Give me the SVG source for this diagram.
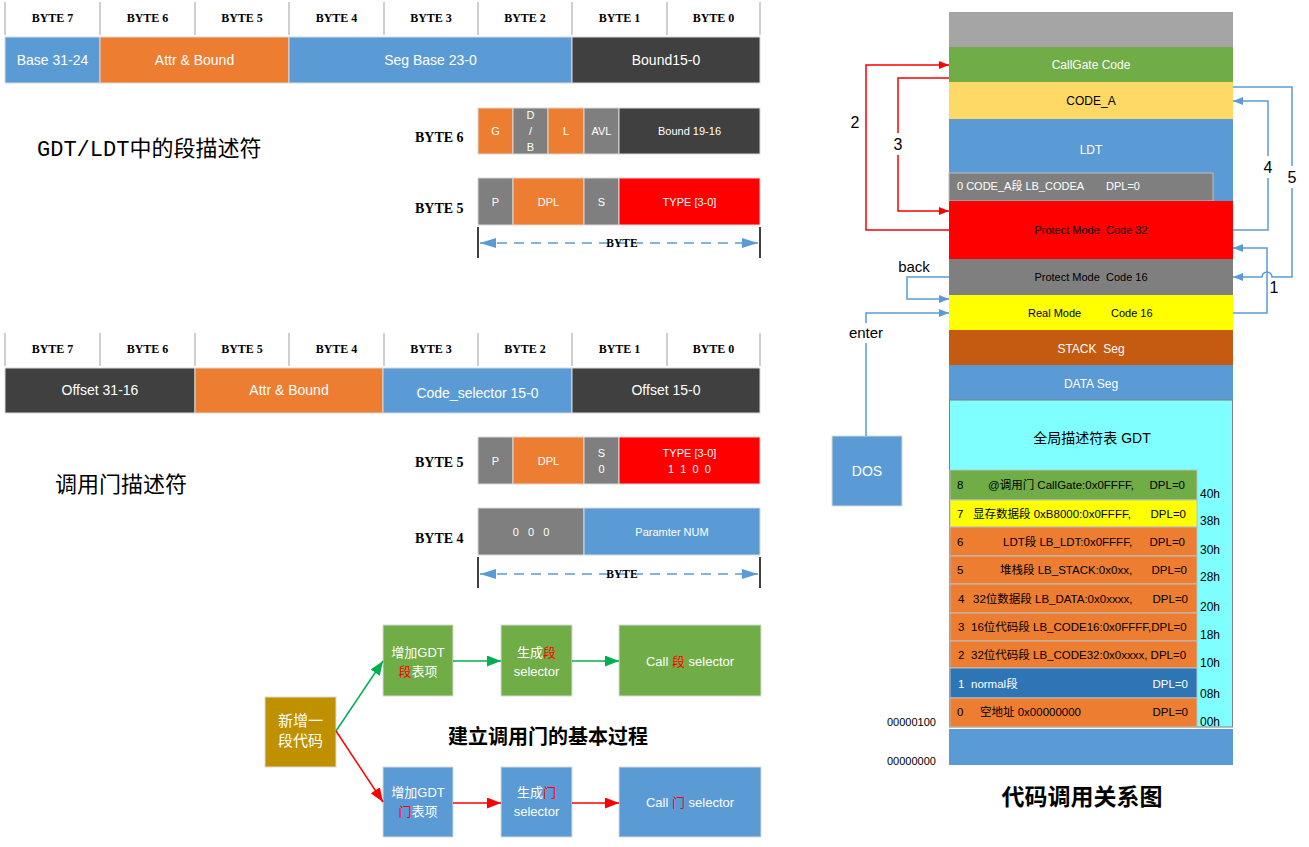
<svg xmlns="http://www.w3.org/2000/svg" width="1309" height="847" viewBox="0 0 1309 847">
<defs>
<style>
.hdr{font-family:"Liberation Serif",serif;font-weight:bold;font-size:12px;fill:#000;text-anchor:middle}
.lbl{font-family:"Liberation Serif",serif;font-weight:bold;font-size:14px;fill:#000}
.bt{font-family:"Liberation Serif",serif;font-weight:bold;font-size:11.5px;fill:#000;text-anchor:middle}
.w14{font-family:"Liberation Sans","Noto Sans CJK SC",sans-serif;font-size:14px;fill:#fff;text-anchor:middle}
.w11{font-family:"Liberation Sans","Noto Sans CJK SC",sans-serif;font-size:11px;fill:#fff;text-anchor:middle}
.w12{font-family:"Liberation Sans","Noto Sans CJK SC",sans-serif;font-size:12px;fill:#fff;text-anchor:middle}
.b12{font-family:"Liberation Sans","Noto Sans CJK SC",sans-serif;font-size:12px;fill:#000;text-anchor:middle}
.b11{font-family:"Liberation Sans","Noto Sans CJK SC",sans-serif;font-size:11px;fill:#000}
.e11{font-family:"Liberation Sans","Noto Sans CJK SC",sans-serif;font-size:11.5px;fill:#000}
.ew{fill:#fff}
.hx{font-family:"Liberation Sans",sans-serif;font-size:12px;fill:#000}
.fl{font-family:"Liberation Sans","Noto Sans CJK SC",sans-serif;font-size:13px;fill:#fff;text-anchor:middle}
.num{font-family:"Liberation Sans",sans-serif;font-size:16px;fill:#000;text-anchor:middle}
.cap{font-family:"Noto Sans CJK SC",sans-serif;font-size:22px;fill:#000}
.ttl{font-family:"Noto Sans CJK SC",sans-serif;font-weight:bold;font-size:20px;fill:#000;text-anchor:middle}
.sep{stroke:#bfbfbf;stroke-width:1.5}
.cell{stroke:#d9d9d9;stroke-width:1}
.ent{stroke:#bfbfbf;stroke-width:1}
.red{fill:none;stroke:#ff0000;stroke-width:1.5}
.blu{fill:none;stroke:#5b9bd5;stroke-width:1.5}
.grn{fill:none;stroke:#00b050;stroke-width:1.5}
.dash{fill:none;stroke:#5b9bd5;stroke-width:1.5;stroke-dasharray:10 7}
.tick{stroke:#000;stroke-width:1.5}
.or{fill:#ed7d31}.gy{fill:#7f7f7f}.dk{fill:#404040}.bl{fill:#5b9bd5}.rd{fill:#ff0000}.gn{fill:#70ad47}
</style>
<marker id="aR" markerWidth="10" markerHeight="8" refX="10" refY="4" orient="auto" markerUnits="userSpaceOnUse"><path d="M0,0 L10,4 L0,8 z" fill="#ff0000"/></marker>
<marker id="aB" markerWidth="10" markerHeight="8" refX="10" refY="4" orient="auto" markerUnits="userSpaceOnUse"><path d="M0,0 L10,4 L0,8 z" fill="#5b9bd5"/></marker>
<marker id="aG2" markerWidth="14" markerHeight="11" refX="14" refY="5.5" orient="auto" markerUnits="userSpaceOnUse"><path d="M0,0 L14,5.5 L0,11 z" fill="#00b050"/></marker>
<marker id="aR2" markerWidth="14" markerHeight="11" refX="14" refY="5.5" orient="auto" markerUnits="userSpaceOnUse"><path d="M0,0 L14,5.5 L0,11 z" fill="#ff0000"/></marker>
<marker id="aD" markerWidth="16" markerHeight="10" refX="16" refY="5" orient="auto-start-reverse" markerUnits="userSpaceOnUse"><path d="M0,0 L16,5 L0,10 z" fill="#5b9bd5"/></marker>
</defs>
<rect width="1309" height="847" fill="#fff"/>

<!-- Segment descriptor table -->
<g id="seg-desc">
  <g>
    <line class="sep" x1="5" y1="2" x2="5" y2="35"/><line class="sep" x1="100" y1="2" x2="100" y2="35"/>
    <line class="sep" x1="195" y1="2" x2="195" y2="35"/><line class="sep" x1="289" y1="2" x2="289" y2="35"/>
    <line class="sep" x1="384" y1="2" x2="384" y2="35"/><line class="sep" x1="478" y1="2" x2="478" y2="35"/>
    <line class="sep" x1="572" y1="2" x2="572" y2="35"/><line class="sep" x1="667" y1="2" x2="667" y2="35"/>
    <line class="sep" x1="760" y1="2" x2="760" y2="35"/>
    <text class="hdr" x="52.5" y="22">BYTE 7</text><text class="hdr" x="147.5" y="22">BYTE 6</text>
    <text class="hdr" x="242" y="22">BYTE 5</text><text class="hdr" x="336.5" y="22">BYTE 4</text>
    <text class="hdr" x="431" y="22">BYTE 3</text><text class="hdr" x="525" y="22">BYTE 2</text>
    <text class="hdr" x="619.5" y="22">BYTE 1</text><text class="hdr" x="713.5" y="22">BYTE 0</text>
  </g>
  <rect class="bl cell" x="5" y="37" width="95" height="46"/>
  <rect class="or cell" x="100" y="37" width="189" height="46"/>
  <rect class="bl cell" x="289" y="37" width="283" height="46"/>
  <rect class="dk cell" x="572" y="37" width="188" height="46"/>
  <text class="w14" x="52.5" y="65">Base 31-24</text>
  <text class="w14" x="194.5" y="65">Attr &amp; Bound</text>
  <text class="w14" x="430.5" y="65">Seg Base 23-0</text>
  <text class="w14" x="666" y="65">Bound15-0</text>
</g>

<text class="cap" x="37" y="156"><tspan style="font-family:'Liberation Mono',monospace">GDT/LDT</tspan>中的段描述符</text>

<g id="seg-byte6">
  <text class="lbl" x="415" y="142">BYTE 6</text>
  <rect class="or cell" x="478" y="108" width="35" height="46"/>
  <rect class="gy cell" x="513" y="108" width="35" height="46"/>
  <rect class="or cell" x="548" y="108" width="36" height="46"/>
  <rect class="gy cell" x="584" y="108" width="35" height="46"/>
  <rect class="dk cell" x="619" y="108" width="141" height="46"/>
  <text class="w11" x="495.5" y="135">G</text>
  <text class="w11" x="530.5" y="119">D</text><text class="w11" x="530.5" y="135">/</text><text class="w11" x="530.5" y="151">B</text>
  <text class="w11" x="566" y="135">L</text>
  <text class="w11" x="601.5" y="135">AVL</text>
  <text class="w11" x="689.5" y="135">Bound 19-16</text>
</g>
<g id="seg-byte5">
  <text class="lbl" x="415" y="213">BYTE 5</text>
  <rect class="gy cell" x="478" y="178" width="35" height="47"/>
  <rect class="or cell" x="513" y="178" width="71" height="47"/>
  <rect class="gy cell" x="584" y="178" width="35" height="47"/>
  <rect class="rd cell" x="619" y="178" width="141" height="47"/>
  <text class="w11" x="495.5" y="206">P</text>
  <text class="w11" x="548.5" y="206">DPL</text>
  <text class="w11" x="601.5" y="206">S</text>
  <text class="w11" x="689.5" y="206">TYPE [3-0]</text>
</g>
<g id="byte-arrow-1">
  <line class="tick" x1="478" y1="227" x2="478" y2="258"/>
  <line class="tick" x1="760" y1="227" x2="760" y2="258"/>
  <line class="dash" x1="480" y1="243" x2="758" y2="243" marker-start="url(#aD)" marker-end="url(#aD)"/>
  <text class="bt" x="622" y="247">BYTE</text>
</g>

<!-- Call gate descriptor table -->
<g id="gate-desc">
  <g>
    <line class="sep" x1="5" y1="333" x2="5" y2="366"/><line class="sep" x1="100" y1="333" x2="100" y2="366"/>
    <line class="sep" x1="195" y1="333" x2="195" y2="366"/><line class="sep" x1="289" y1="333" x2="289" y2="366"/>
    <line class="sep" x1="384" y1="333" x2="384" y2="366"/><line class="sep" x1="478" y1="333" x2="478" y2="366"/>
    <line class="sep" x1="572" y1="333" x2="572" y2="366"/><line class="sep" x1="667" y1="333" x2="667" y2="366"/>
    <line class="sep" x1="760" y1="333" x2="760" y2="366"/>
    <text class="hdr" x="52.5" y="353">BYTE 7</text><text class="hdr" x="147.5" y="353">BYTE 6</text>
    <text class="hdr" x="242" y="353">BYTE 5</text><text class="hdr" x="336.5" y="353">BYTE 4</text>
    <text class="hdr" x="431" y="353">BYTE 3</text><text class="hdr" x="525" y="353">BYTE 2</text>
    <text class="hdr" x="619.5" y="353">BYTE 1</text><text class="hdr" x="713.5" y="353">BYTE 0</text>
  </g>
  <rect class="dk cell" x="5" y="368" width="190" height="45"/>
  <rect class="or cell" x="195" y="368" width="188" height="45"/>
  <rect class="bl cell" x="383" y="368" width="189" height="45"/>
  <rect class="dk cell" x="572" y="368" width="188" height="45"/>
  <text class="w14" x="100" y="395">Offset 31-16</text>
  <text class="w14" x="289" y="395">Attr &amp; Bound</text>
  <text class="w14" x="477.5" y="398">Code_selector 15-0</text>
  <text class="w14" x="666" y="395">Offset 15-0</text>
</g>

<text class="cap" x="55" y="492">调用门描述符</text>

<g id="gate-byte5">
  <text class="lbl" x="415" y="467">BYTE 5</text>
  <rect class="gy cell" x="478" y="437" width="35" height="47"/>
  <rect class="or cell" x="513" y="437" width="71" height="47"/>
  <rect class="gy cell" x="584" y="437" width="35" height="47"/>
  <rect class="rd cell" x="619" y="437" width="141" height="47"/>
  <text class="w11" x="495.5" y="465">P</text>
  <text class="w11" x="548.5" y="465">DPL</text>
  <text class="w11" x="601.5" y="457">S</text><text class="w11" x="601.5" y="473">0</text>
  <text class="w11" x="689.5" y="457">TYPE [3-0]</text>
  <text class="w11" x="689.5" y="473" xml:space="preserve">1  1  0  0</text>
</g>
<g id="gate-byte4">
  <text class="lbl" x="415" y="543">BYTE 4</text>
  <rect class="gy cell" x="478" y="508" width="106" height="47"/>
  <rect class="bl cell" x="584" y="508" width="176" height="47"/>
  <text class="w11" x="531" y="536" xml:space="preserve">0   0   0</text>
  <text class="w11" x="672" y="536">Paramter NUM</text>
</g>
<g id="byte-arrow-2">
  <line class="tick" x1="478" y1="557" x2="478" y2="588"/>
  <line class="tick" x1="760" y1="557" x2="760" y2="588"/>
  <line class="dash" x1="480" y1="574" x2="758" y2="574" marker-start="url(#aD)" marker-end="url(#aD)"/>
  <text class="bt" x="622" y="578">BYTE</text>
</g>

<!-- Flow: building a call gate -->
<g id="flow-start">
  <rect x="265" y="697" width="71" height="70" fill="#bf9000" stroke="#d9d9d9"/>
  <text class="fl" x="300.5" y="726" style="font-size:15px">新增一</text>
  <text class="fl" x="300.5" y="746" style="font-size:15px">段代码</text>
</g>
<g id="flow-seg-add">
  <rect class="gn" x="383" y="625" width="70" height="71" stroke="#d9d9d9"/>
  <text class="fl" x="418" y="657">增加GDT</text>
  <text class="fl" x="418" y="676"><tspan fill="#ff0000">段</tspan>表项</text>
</g>
<g id="flow-seg-sel">
  <rect class="gn" x="501" y="625" width="71" height="71" stroke="#d9d9d9"/>
  <text class="fl" x="536.5" y="657">生成<tspan fill="#ff0000">段</tspan></text>
  <text class="fl" x="536.5" y="676">selector</text>
</g>
<g id="flow-seg-call">
  <rect class="gn" x="619" y="625" width="142" height="71" stroke="#d9d9d9"/>
  <text class="fl" x="690" y="666">Call <tspan fill="#ff0000">段</tspan> selector</text>
</g>
<g id="flow-gate-add">
  <rect class="bl" x="383" y="767" width="70" height="70" stroke="#d9d9d9"/>
  <text class="fl" x="418" y="797">增加GDT</text>
  <text class="fl" x="418" y="816"><tspan fill="#ff0000">门</tspan>表项</text>
</g>
<g id="flow-gate-sel">
  <rect class="bl" x="501" y="767" width="71" height="70" stroke="#d9d9d9"/>
  <text class="fl" x="536.5" y="797">生成<tspan fill="#ff0000">门</tspan></text>
  <text class="fl" x="536.5" y="816">selector</text>
</g>
<g id="flow-gate-call">
  <rect class="bl" x="619" y="767" width="142" height="70" stroke="#d9d9d9"/>
  <text class="fl" x="690" y="807">Call <tspan fill="#ff0000">门</tspan> selector</text>
</g>
<text class="ttl" x="548" y="744">建立调用门的基本过程</text>

<!-- Right: memory map -->
<g id="mem-top"><rect x="949" y="12" width="284" height="35" fill="#a5a5a5"/></g>
<g id="mem-callgate"><rect class="gn" x="949" y="47" width="284" height="35"/><text class="w12" x="1091" y="69">CallGate Code</text></g>
<g id="mem-codea"><rect x="949" y="82" width="284" height="37" fill="#ffd966"/><text class="b12" x="1091" y="105">CODE_A</text></g>
<g id="mem-ldt"><rect class="bl" x="949" y="119" width="284" height="82"/><text class="w12" x="1091" y="154">LDT</text>
  <rect class="gy" x="949" y="173" width="264" height="28" stroke="#bfbfbf"/>
  <text class="b11 ew" x="957" y="190">0 CODE_A段 LB_CODEA</text><text class="b11 ew" x="1106" y="190">DPL=0</text></g>
<g id="mem-pm32"><rect class="rd" x="949" y="201" width="284" height="58"/><text class="b11" x="1091" y="234" text-anchor="middle" xml:space="preserve">Protect Mode  Code 32</text></g>
<g id="mem-pm16"><rect class="gy" x="949" y="259" width="284" height="36"/><text class="b11" x="1091" y="281" text-anchor="middle" xml:space="preserve">Protect Mode  Code 16</text></g>
<g id="mem-real"><rect x="949" y="295" width="284" height="35" fill="#ffff00"/><text class="b11" x="1028" y="317">Real Mode</text><text class="b11" x="1111" y="317">Code 16</text></g>
<g id="mem-stack"><rect x="949" y="330" width="284" height="35" fill="#c55a11"/><text class="w12" x="1091" y="353" xml:space="preserve">STACK  Seg</text></g>
<g id="mem-data"><rect class="bl" x="949" y="365" width="284" height="35"/><text class="w12" x="1091" y="388">DATA Seg</text></g>
<g id="mem-gdt">
  <rect x="949.5" y="400" width="283" height="327" fill="#7fffff" stroke="#7f7f7f"/>
  <text class="b12" x="1092" y="443" style="font-size:14px">全局描述符表 GDT</text>
  <rect class="gn ent" x="950" y="470" width="247" height="30"/>
  <text class="e11" x="957" y="489">8</text><text class="e11" x="988" y="489">@调用门 CallGate:0x0FFFF,</text><text class="e11" x="1185" y="489" text-anchor="end">DPL=0</text>
  <rect class="ent" x="950" y="500" width="247" height="27" fill="#ffff00"/>
  <text class="e11" x="957" y="518">7</text><text class="e11" x="973" y="518">显存数据段 0xB8000:0x0FFFF,</text><text class="e11" x="1186" y="518" text-anchor="end">DPL=0</text>
  <rect class="or ent" x="950" y="527" width="247" height="29"/>
  <text class="e11" x="957" y="546">6</text><text class="e11" x="1003" y="546">LDT段 LB_LDT:0x0FFFF,</text><text class="e11" x="1185" y="546" text-anchor="end">DPL=0</text>
  <rect class="or ent" x="950" y="556" width="247" height="28"/>
  <text class="e11" x="957" y="574">5</text><text class="e11" x="1000" y="574">堆栈段 LB_STACK:0x0xx,</text><text class="e11" x="1187" y="574" text-anchor="end">DPL=0</text>
  <rect class="or ent" x="950" y="584" width="247" height="29"/>
  <text class="e11" x="958" y="603">4</text><text class="e11" x="973" y="603">32位数据段 LB_DATA:0x0xxxx,</text><text class="e11" x="1188" y="603" text-anchor="end">DPL=0</text>
  <rect class="or ent" x="950" y="613" width="247" height="28"/>
  <text class="e11" x="958" y="631">3</text><text class="e11" x="971" y="631">16位代码段 LB_CODE16:0x0FFFF,DPL=0</text>
  <rect class="or ent" x="950" y="641" width="247" height="27"/>
  <text class="e11" x="958" y="659">2</text><text class="e11" x="971" y="659">32位代码段 LB_CODE32:0x0xxxx, DPL=0</text>
  <rect class="ent" x="950" y="668" width="247" height="30" fill="#2e75b6"/>
  <text class="e11 ew" x="958" y="688">1</text><text class="e11 ew" x="971" y="688">normal段</text><text class="e11 ew" x="1188" y="688" text-anchor="end">DPL=0</text>
  <rect class="or ent" x="950" y="698" width="247" height="29"/>
  <text class="e11" x="957" y="716">0</text><text class="e11" x="980" y="716">空地址 0x00000000</text><text class="e11" x="1188" y="716" text-anchor="end">DPL=0</text>
  <text class="hx" x="1200" y="498">40h</text><text class="hx" x="1200" y="525">38h</text>
  <text class="hx" x="1200" y="554">30h</text><text class="hx" x="1200" y="581">28h</text>
  <text class="hx" x="1200" y="611">20h</text><text class="hx" x="1200" y="639">18h</text>
  <text class="hx" x="1200" y="667">10h</text><text class="hx" x="1200" y="698">08h</text>
  <text class="hx" x="1200" y="726">00h</text>
</g>
<g id="mem-bottom"><rect class="bl" x="949" y="729" width="284" height="36"/></g>
<text class="b11" x="887" y="726">00000100</text>
<text class="b11" x="887" y="765">00000000</text>
<g id="dos"><rect class="bl" x="832" y="436" width="70" height="70" stroke="#d9d9d9"/><text class="w14" x="867" y="476">DOS</text></g>
<text class="ttl" x="1082" y="805" style="font-size:23px">代码调用关系图</text>

<!-- Connectors -->
<g id="connectors">
  <path class="grn" d="M336,731 L383,661" marker-end="url(#aG2)"/>
  <path class="grn" d="M453,661 H501" marker-end="url(#aG2)"/>
  <path class="grn" d="M572,661 H619" marker-end="url(#aG2)"/>
  <path class="red" d="M336,731 L383,802" marker-end="url(#aR2)"/>
  <path class="red" d="M453,803 H501" marker-end="url(#aR2)"/>
  <path class="red" d="M572,803 H619" marker-end="url(#aR2)"/>

  <path class="red" d="M949,230 H866 V65 H949" marker-end="url(#aR)"/>
  <path class="red" d="M949,78 H898 V211 H949" marker-end="url(#aR)"/>
  <path class="blu" d="M1233,230 H1268 V101 H1233" marker-end="url(#aB)"/>
  <path class="blu" d="M1233,87 H1292 V277 H1272 a5,5 0 0 0 -10,0 H1233" marker-end="url(#aB)"/>
  <path class="blu" d="M1233,313 H1267 V248 H1233" marker-end="url(#aB)"/>
  <path class="blu" d="M949,277 H907 V299 H949" marker-end="url(#aB)"/>
  <path class="blu" d="M866,436 V313 H949" marker-end="url(#aB)"/>

  <text class="num" x="855" y="128">2</text>
  <rect x="890" y="133" width="16" height="22" fill="#fff"/><text class="num" x="898" y="150">3</text>
  <rect x="1260" y="156" width="16" height="22" fill="#fff"/><text class="num" x="1268" y="173">4</text>
  <rect x="1284" y="166" width="16" height="22" fill="#fff"/><text class="num" x="1292" y="183">5</text>
  <text class="num" x="1274" y="293">1</text>
  <text class="num" x="914" y="272" style="font-size:15px">back</text>
  <rect x="845" y="323" width="44" height="20" fill="#fff"/><text class="num" x="866" y="338" style="font-size:15px">enter</text>
</g>
</svg>
